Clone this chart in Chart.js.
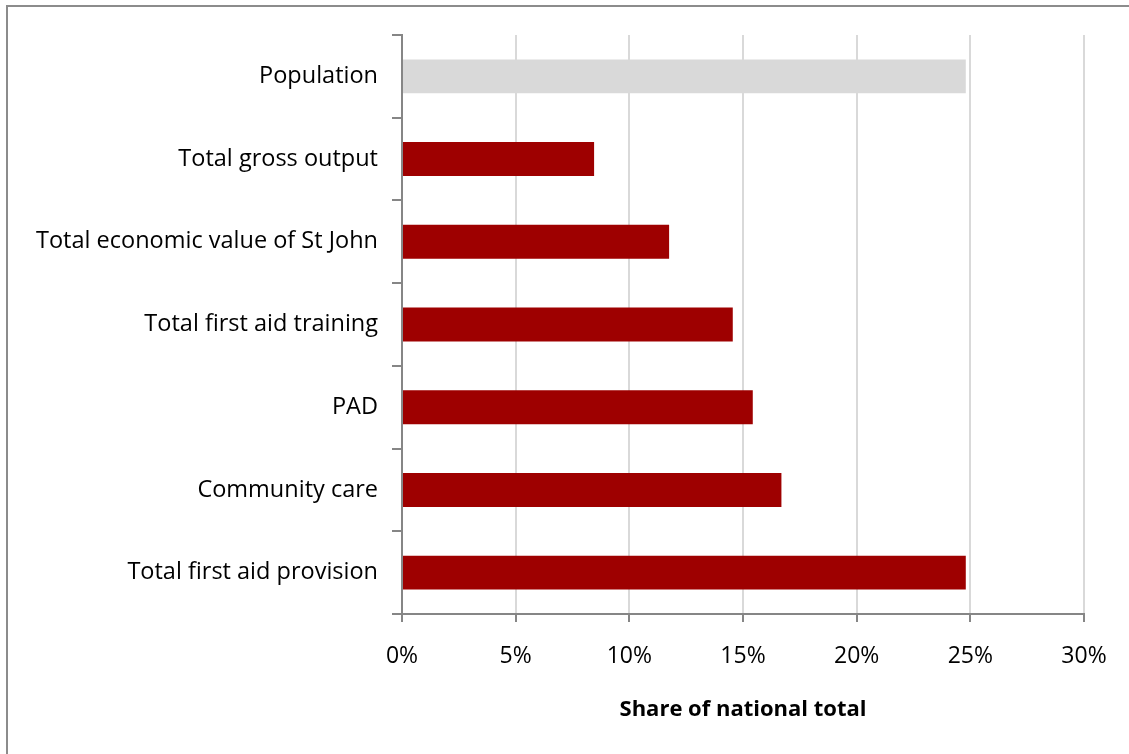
<!DOCTYPE html>
<html>
<head>
<meta charset="utf-8">
<script src="https://cdn.jsdelivr.net/npm/chart.js@4"></script>
<style>
  html, body { margin: 0; padding: 0; background: #fff; overflow: hidden; }
  .wrap { position: relative; width: 1129px; height: 754px; }
  .frame {
    position: absolute; left: 6px; top: 5px; width: 1200px; height: 800px;
    border: 2px solid #8c8c8c; box-sizing: border-box;
  }
  canvas { position: absolute; left: 0; top: 0; }
</style>
</head>
<body>
<div class="wrap">
  <div class="frame"></div>
  <canvas id="share-chart" width="1129" height="754"></canvas>
</div>
<script>
// Share of national total by measure (%)
const categories = [
  'Population',
  'Total gross output',
  'Total economic value of St John',
  'Total first aid training',
  'PAD',
  'Community care',
  'Total first aid provision'
];
const shareValues = [24.8, 8.45, 11.75, 14.55, 15.43, 16.69, 24.8];
const barColors = ['#d9d9d9', '#9e0000', '#9e0000', '#9e0000', '#9e0000', '#9e0000', '#9e0000'];
const xTicks = [0, 5, 10, 15, 20, 25, 30];

const FONT = "'Open Sans', sans-serif";
const AXIS_GREY = '#868686';

new Chart(document.getElementById('share-chart'), {
  type: 'bar',
  data: {
    labels: categories,
    datasets: [{
      data: shareValues,
      backgroundColor: barColors,
      borderWidth: 0,
      barPercentage: 0.41,
      categoryPercentage: 1.0,
    }]
  },
  options: {
    indexAxis: 'y',
    responsive: false,
    animation: false,
    layout: { padding: { top: 35, right: 45, bottom: 0, left: 0 } },
    plugins: { legend: { display: false }, tooltip: { enabled: false } },
    scales: {
      x: {
        min: 0,
        max: 30,
        afterBuildTicks: scale => { scale.ticks = xTicks.map(v => ({ value: v })); },
        afterFit: scale => { scale.height = 140; },
        grid: { color: '#d9d9d9', lineWidth: 2, tickColor: AXIS_GREY, tickLength: 8 },
        border: { color: AXIS_GREY, width: 2 },
        ticks: {
          font: { family: FONT, size: 23 },
          color: '#000',
          padding: 21,
          maxRotation: 0,
          callback: v => v + '%',
        },
        title: {
          display: true,
          text: 'Share of national total',
          font: { family: FONT, size: 22, weight: 'bold' },
          color: '#000',
          padding: { top: 0, bottom: 31 },
        }
      },
      y: {
        afterFit: scale => { scale.width = 402; },
        grid: { drawOnChartArea: false, color: AXIS_GREY, lineWidth: 2, tickLength: 10, offset: true },
        border: { color: AXIS_GREY, width: 2 },
        ticks: {
          font: { family: FONT, size: 23.5 },
          color: '#000',
          padding: 14,
        }
      }
    }
  }
});
</script>
</body>
</html>
